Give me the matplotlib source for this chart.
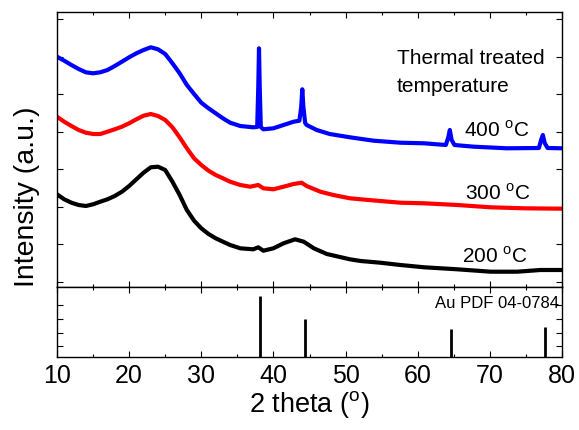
import numpy as np
import matplotlib
matplotlib.use("Agg")
import matplotlib.pyplot as plt
from matplotlib.ticker import MultipleLocator, FixedLocator, NullFormatter

plt.rcParams['font.family'] = ['Liberation Sans', 'DejaVu Sans']
plt.rcParams['mathtext.fontset'] = 'custom'
plt.rcParams['mathtext.rm'] = 'Liberation Sans'

# 200 C sample
x200 = [10, 11, 12, 13, 14, 15, 16, 17, 18, 19, 20, 21, 22, 23, 24, 25, 26, 27,
        28, 29, 30, 31, 32, 33, 34, 35.4, 37.2, 37.9, 38.6, 40.0, 41.4, 43.0,
        44.2, 45.6, 47.4, 50.6, 52.1, 54.8, 57.6, 60.9, 65.5, 70.1, 73.8, 77, 80]
y200 = [92.7, 87.7, 84.3, 82, 81, 82.7, 85.3, 87.7, 91, 95.3, 101, 107.7, 114.3,
        119.7, 120.3, 117, 105.3, 92, 77, 66.3, 58.7, 53, 48.7, 45.3, 42, 38.7,
        37.7, 39.7, 36.3, 38.7, 43.7, 47.7, 45.3, 38.7, 33, 27.7, 26, 24.3, 22,
        19.7, 17.7, 15.3, 15.3, 17, 17]

# 300 C sample
x300 = [10, 11, 12, 13, 14, 15, 16, 17, 18, 19, 20, 21, 22, 23, 24, 25, 26, 27,
        28, 29, 30, 31, 32, 33, 34, 35.4, 36.8, 37.9, 38.6, 40.0, 41.4, 42.8,
        43.9, 44.6, 46.5, 48.3, 50.6, 52.1, 54.8, 57.6, 60.9, 65.5, 70.1, 74.7, 80]
y300 = [170.3, 165.3, 161, 157, 154.3, 153, 153, 155.3, 157.7, 160.3, 163.7,
        167.7, 171.3, 173, 171, 167, 159.7, 149.7, 138.7, 128.7, 122, 116.3, 112,
        108.7, 105.3, 102, 100.3, 102, 98.7, 97.7, 100.3, 103, 104.3, 101, 95.3,
        92, 88.7, 87.7, 86, 84.3, 83.7, 82, 79.7, 78.7, 78.3]

# 400 C sample
x400 = [10, 11, 12, 13, 14, 15, 16, 17, 18, 19, 20, 21, 22, 23, 24, 25, 26, 27,
        28, 29, 30, 31, 32, 33, 34, 35.4, 37.2, 37.75, 37.9, 38.0, 38.1, 38.25,
        38.6, 40.0, 41.4, 42.8, 43.6, 43.85, 44.0, 44.15, 44.4, 44.6, 46.0, 47.8,
        50.6, 53.9, 57.6, 60.9, 63.9, 64.25, 64.45, 64.7, 65.1, 67.8, 72.4, 76.8,
        77.1, 77.35, 77.6, 78.0, 80]
y400 = [230.3, 226.3, 222, 218, 214.7, 213.7, 214.7, 217, 221, 225.3, 229.7,
        233.7, 237, 239.7, 237.7, 233, 223.7, 213.7, 202, 193, 184.3, 178.7, 173.7,
        168.7, 164.3, 161, 159.7, 160, 200, 238.7, 200, 160, 157.7, 158.7, 162,
        165.3, 166.3, 180, 197.7, 180, 164, 162, 157, 153, 149.7, 146.3, 144.3,
        143.7, 142, 150, 157, 147, 142, 140.3, 138.7, 139, 147, 152, 144, 139,
        138.7]

# Au PDF 04-0784 reference lines
au_pos = [38.2, 44.4, 64.6, 77.6]
au_int = [87, 54, 40, 43]

fig = plt.figure(figsize=(5.79, 4.30), dpi=100)
left, right = 57 / 579, 562 / 579
ax = fig.add_axes([left, 1 - 287 / 430, right - left, 275 / 430])
ax2 = fig.add_axes([left, 1 - 357 / 430, right - left, 70 / 430], sharex=ax)

ax.plot(x200, y200, color='black', lw=3)
ax.plot(x300, y300, color='red', lw=3)
ax.plot(x400, y400, color='blue', lw=3)
ax.set_ylim(0, 275)
ax.set_xlim(10, 80)

ax2.vlines(au_pos, 0, au_int, color='black', lw=2)
ax2.set_ylim(0, 100)

for a in (ax, ax2):
    a.tick_params(which='both', direction='in', top=True, right=True, width=0.8)
    a.tick_params(which='major', length=4)
    a.tick_params(which='minor', length=2.5)
    a.xaxis.set_major_locator(MultipleLocator(10))
    a.xaxis.set_minor_locator(MultipleLocator(5))
    a.yaxis.set_major_formatter(NullFormatter())
    for s in a.spines.values():
        s.set_linewidth(1.0)

ax.yaxis.set_major_locator(FixedLocator(np.arange(5.5, 275, 37.5)))
ax2.yaxis.set_major_locator(FixedLocator([16, 35, 55, 74]))
ax.tick_params(axis='x', labelbottom=False)
ax2.tick_params(axis='x', labelsize=18, pad=5)

ax.text(57.1, 228.7, 'Thermal treated', fontsize=15, va='center', ha='left')
ax.text(57.1, 201, 'temperature', fontsize=15, va='center', ha='left')
ax.text(66.4, 156.3, '400 $^\\mathregular{o}$C', fontsize=15, va='center', ha='left')
ax.text(66.5, 93.7, '300 $^\\mathregular{o}$C', fontsize=15, va='center', ha='left')
ax.text(66.2, 31, '200 $^\\mathregular{o}$C', fontsize=15, va='center', ha='left')
ax2.text(79.6, 76, 'Au PDF 04-0784', fontsize=12, va='center', ha='right')

ax2.set_xlabel('2 theta ($^\\mathregular{o}$)', fontsize=19.5, labelpad=1)
fig.text(27 / 579, 1 - 197 / 430, 'Intensity (a.u.)', fontsize=20.5, rotation=90,
         va='center', ha='center')

fig.savefig('out.png', dpi=100)
